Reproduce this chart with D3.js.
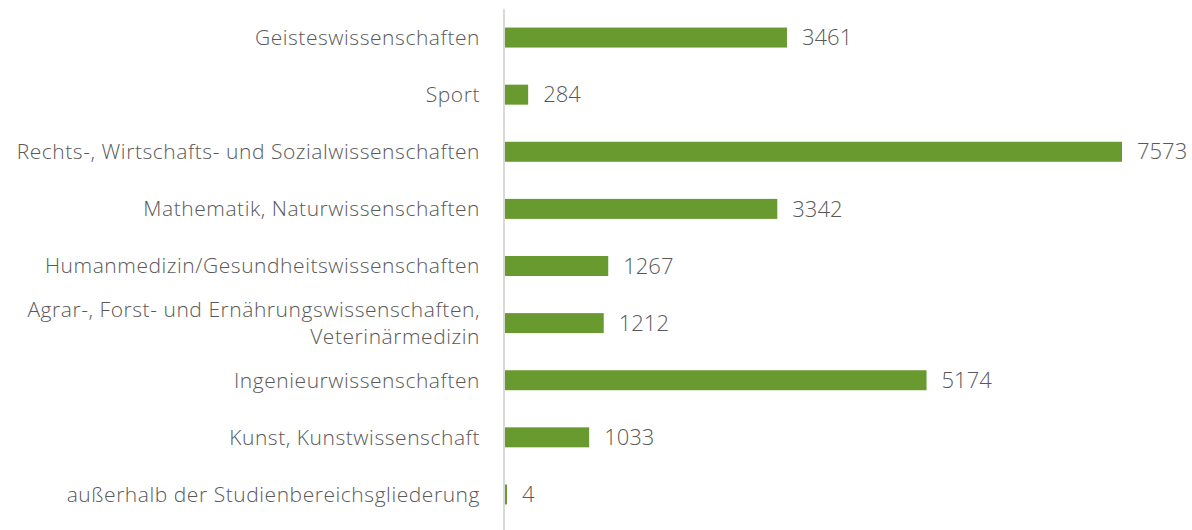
<!DOCTYPE html>
<meta charset="utf-8">
<style>
body { margin: 0; background: #fff; }
text { font-family: "Open Sans", sans-serif; fill: #595959; }
</style>
<svg width="1192" height="530"></svg>
<script src="https://cdnjs.cloudflare.com/ajax/libs/d3/7.8.5/d3.min.js"></script>
<script>

var categories = [
  "Geisteswissenschaften",
  "Sport",
  "Rechts-, Wirtschafts- und Sozialwissenschaften",
  "Mathematik, Naturwissenschaften",
  "Humanmedizin/Gesundheitswissenschaften",
  "Agrar-, Forst- und Ernährungswissenschaften,\nVeterinärmedizin",
  "Ingenieurwissenschaften",
  "Kunst, Kunstwissenschaft",
  "außerhalb der Studienbereichsgliederung"
];
var values = [3461, 284, 7573, 3342, 1267, 1212, 5174, 1033, 4];

var svg = d3.select("svg"),
    x0 = 505;

var x = d3.scaleLinear()
    .domain([0, 7573])
    .range([x0, 1122]);

var y = d3.scaleBand()
    .domain(categories)
    .range([9, 523])
    .paddingInner(0.65)
    .paddingOuter(0.325);

// bars
svg.append("g")
  .selectAll("rect")
  .data(values)
  .enter().append("rect")
    .attr("x", x(0))
    .attr("y", function(d, i) { return y(categories[i]); })
    .attr("width", function(d) { return Math.max(x(d) - x(0), 2); })
    .attr("height", y.bandwidth())
    .attr("fill", "#699a30");

// axis line
svg.append("line")
    .attr("x1", 504).attr("x2", 504)
    .attr("y1", 9).attr("y2", 530)
    .attr("stroke", "#d9d9d9")
    .attr("stroke-width", 2);

// category labels
var labels = svg.append("g")
  .selectAll("text")
  .data(categories)
  .enter().append("text")
    .attr("x", 480)
    .attr("y", function(d) { return y(d) + y.bandwidth() / 2; })
    .attr("text-anchor", "end")
    .style("font-size", "21px")
    .style("font-weight", 300)
    .style("letter-spacing", "0.55px");

labels.each(function(d) {
  var lines = d.split("\n"),
      t = d3.select(this);
  lines.forEach(function(l, k) {
    t.append("tspan")
      .attr("x", 480)
      .attr("dy", k == 0 ? (0.35 - (lines.length - 1) * 0.62) + "em" : "1.25em")
      .text(l);
  });
});

// value labels
svg.append("g")
  .selectAll("text")
  .data(values)
  .enter().append("text")
    .attr("x", function(d) { return Math.max(x(d), x(0) + 2) + 15; })
    .attr("y", function(d, i) { return y(categories[i]) + y.bandwidth() / 2; })
    .attr("dy", "0.35em")
    .style("font-size", "22px")
    .style("font-weight", 300)
    .text(function(d) { return d; });

</script>
